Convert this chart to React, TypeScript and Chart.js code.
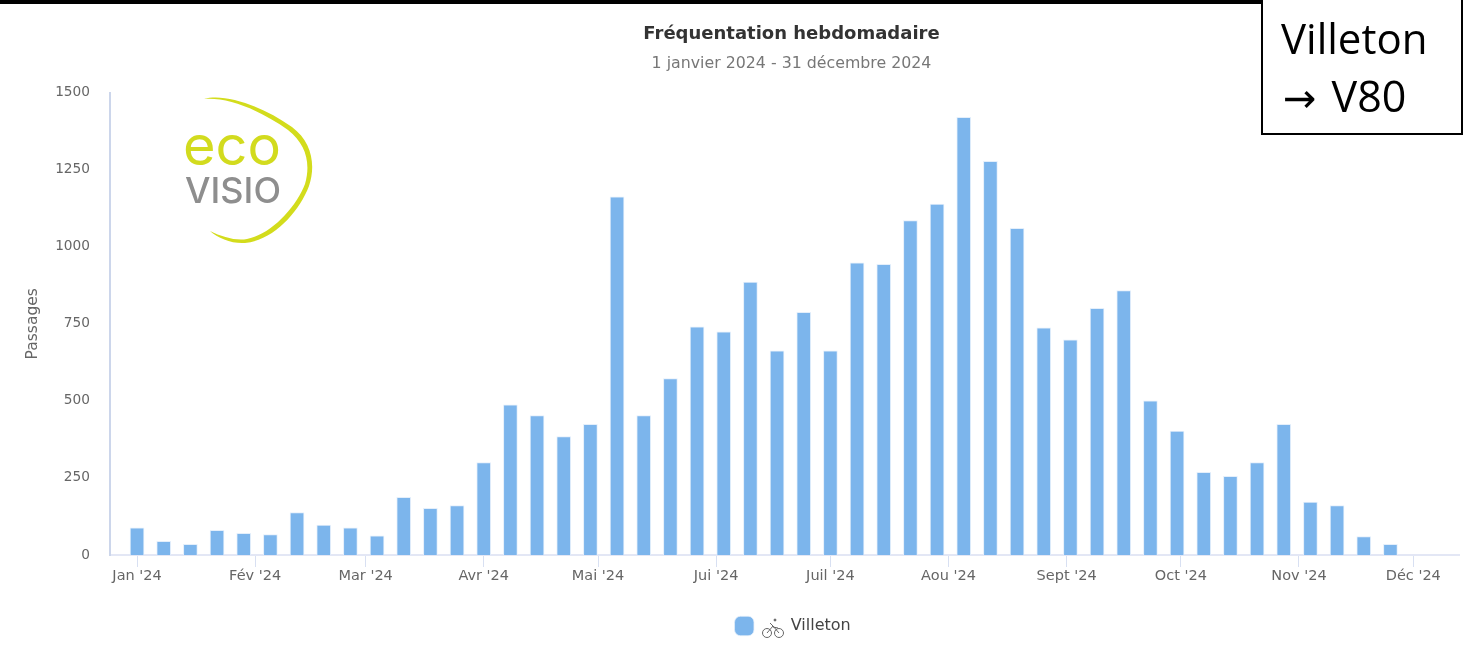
import React, { useEffect, useRef } from "react";
import { Chart, registerables } from "chart.js";

Chart.register(...registerables);

const weekDays = [0,7,14,21,28,35,42,49,56,63,70,77,84,91,98,105,112,119,126,133,140,147,154,161,168,175,182,189,196,203,210,217,224,231,238,245,252,259,266,273,280,287,294,301,308,315,322,329,336,343];
const passages = [88,44,35,80,70,66,138,97,88,62,187,151,160,300,487,452,384,424,1162,452,572,740,724,885,662,787,662,948,943,1085,1138,1420,1277,1060,737,698,800,858,500,402,268,255,300,424,172,160,60,35,0,0];
const monthDays = [0,31,60,91,121,152,182,213,244,274,305,335];
const monthLabels = ["Jan '24","Fév '24","Mar '24","Avr '24","Mai '24","Jui '24","Juil '24","Aou '24","Sept '24","Oct '24","Nov '24","Déc '24"];
const yTicks = [0,250,500,750,1000,1250,1500];
const seriesName = "Villeton";
const titleText = "Fréquentation hebdomadaire";
const subtitleText = "1 janvier 2024 - 31 décembre 2024";
const yTitle = "Passages";

const FONT = "'DejaVu Sans', sans-serif";
const GREY = "#666666";

const shiftBoxes = {
  id: "shiftBoxes",
  afterLayout(chart: any) {
    for (const box of chart.boxes) {
      if (!box.axis) {
        const dx = box === chart.legend ? 64 : 62;
        box.left += dx;
        box.right += dx;
      }
    }
  },
};

export default function App() {
  const ref = useRef<HTMLCanvasElement | null>(null);
  useEffect(() => {
    if (!ref.current) return;
    const chart = new Chart(ref.current, {
      type: "bar",
      data: {
        datasets: [{
          label: "      " + seriesName,
          data: weekDays.map((d, i) => ({ x: d, y: passages[i] })),
          backgroundColor: "#7cb5ec",
          borderColor: "#e4effb",
          borderWidth: { top: 1, left: 1, right: 1, bottom: 0 },
          barThickness: 14,
        }],
      },
      plugins: [shiftBoxes],
      options: {
        animation: false,
        responsive: false,
        layout: { padding: { top: 0, right: 4, bottom: 11, left: 0 } },
        plugins: {
          title: {
            display: true, text: titleText, color: "#333333",
            font: { family: FONT, size: 18, weight: 700 },
            padding: { top: 24, bottom: 9 },
          },
          subtitle: {
            display: true, text: subtitleText, color: "#777777",
            font: { family: FONT, size: 15.8, weight: 400 },
            padding: { top: 0, bottom: 19 },
          },
          legend: {
            display: true, position: "bottom",
            labels: {
              usePointStyle: true, pointStyle: "rectRounded", boxWidth: 16, boxHeight: 16,
              color: "#444444", font: { family: FONT, size: 16, weight: 400 },
              padding: 6,
            },
          },
          tooltip: { enabled: false },
        },
        scales: {
          x: {
            type: "linear", min: -7.1, max: 347, offset: false,
            afterBuildTicks(s: any) { s.ticks = monthDays.map((value) => ({ value })); },
            afterFit(s: any) { s.height = 57; },
            border: { color: "#e3e7f5", width: 2 },
            grid: { offset: false, drawOnChartArea: false, color: "#d8e0f2", tickLength: 12, tickWidth: 1 },
            ticks: {
              autoSkip: false, maxRotation: 0, minRotation: 0, color: GREY, padding: 1,
              font: { family: FONT, size: 14.5 },
              callback: (v: any) => monthLabels[monthDays.indexOf(Number(v))] ?? "",
            },
          },
          y: {
            min: 0, max: 1500,
            afterBuildTicks(s: any) { s.ticks = yTicks.map((value) => ({ value })); },
            afterFit(s: any) { s.width = 110; },
            border: { color: "#ccd6eb", width: 2 },
            grid: { display: false, drawTicks: false },
            title: { display: true, text: yTitle, color: GREY, font: { family: FONT, size: 15.5 }, padding: { top: 24, bottom: 0 } },
            ticks: { color: GREY, padding: 20, font: { family: FONT, size: 13.7 }, callback: (v: any) => String(v) },
          },
        },
      },
    } as any);
    return () => chart.destroy();
  }, []);

  return (
    <div style={{ position: "fixed", left: 0, top: 0, width: 1463, height: 655, background: "#fff", overflow: "hidden" }}>
      <canvas ref={ref} width={1463} height={655} style={{ position: "absolute", left: 0, top: 0, width: 1463, height: 655 }} />
      <svg width={1463} height={655} style={{ position: "absolute", left: 0, top: 0 }}>
        <rect x={0} y={0} width={1463} height={4} fill="#000" />
        <path d="M204 99 C225 93 262 106 292 127 C312 142 316 165 309 186 C299 212 274 240 245 243 C232 244 218 238 210 231 C222 237 236 241 247 239 C272 234 296 207 305 184 C311 163 306 144 288 130 C260 110 228 97 204 99 Z" fill="#d3dc1c" />
        <text x={183} y={165} textLength={98} lengthAdjust="spacingAndGlyphs" fontFamily="Inter" fontSize={54} fontWeight={400} fill="#d2db1e">eco</text>
        <text x={185} y={203} textLength={96} lengthAdjust="spacingAndGlyphs" fontFamily="Inter" fontSize={35} fontWeight={500} fill="#8e8e8e">VISIO</text>
        <g fill="none" stroke="#666" strokeWidth={1}>
          <circle cx={767} cy={633} r={4.5} />
          <circle cx={779} cy={633} r={4.5} />
          <path d="M767 633 L773 626 L779 633 M773 626 L770 623 M773 627 L778 628" />
          <circle cx={775} cy={620} r={1} fill="#666" />
        </g>
      </svg>
      <div style={{ position: "absolute", left: 1261, top: 0, width: 198, height: 133, borderLeft: "2px solid #000", borderRight: "2px solid #000", borderBottom: "2px solid #000", background: "#fff", fontFamily: "'Open Sans', sans-serif", color: "#000", fontSize: 42, lineHeight: "60px", boxSizing: "content-box" }}>
        <div style={{ position: "absolute", left: 18, top: 8, whiteSpace: "nowrap" }}>Villeton</div>
        <div style={{ position: "absolute", left: 20, top: 66, whiteSpace: "nowrap" }}><span style={{ fontFamily: "'DejaVu Sans'", fontSize: 40 }}>→</span><span style={{ marginLeft: 15, fontSize: 43 }}>V80</span></div>
      </div>
    </div>
  );
}
